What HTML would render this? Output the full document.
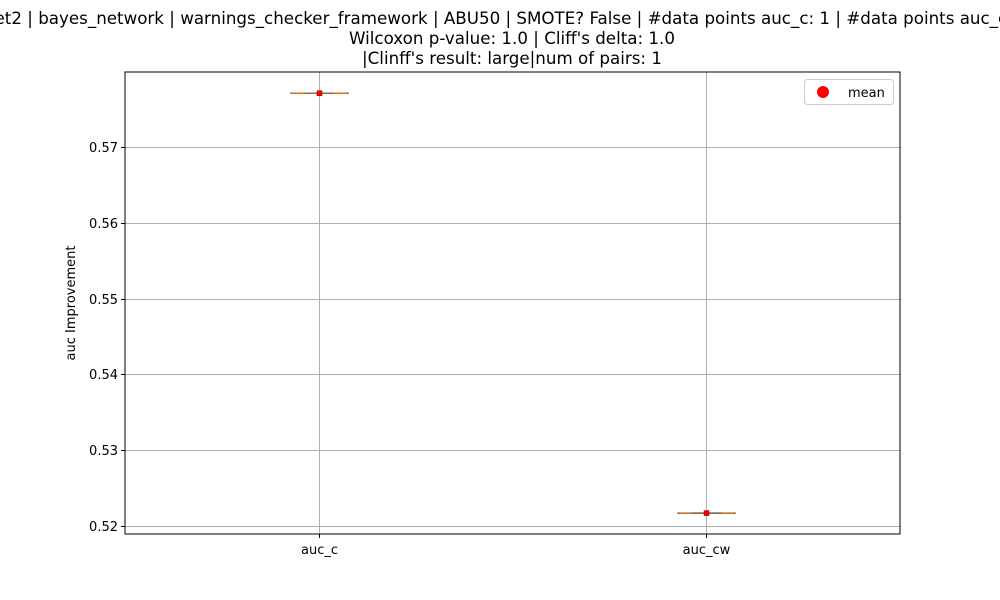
<!DOCTYPE html>
<html><head><meta charset="utf-8"><style>
body{margin:0;background:#fff;}
svg{display:block;font-family:"DejaVu Sans","Liberation Sans",sans-serif;}
</style></head><body>
<svg id="chart" width="1000" height="600" viewBox="0 0 1000 600">
<rect width="1000" height="600" fill="#fff"/>
<g font-size="16.7" text-anchor="middle" fill="#000">
<text x="518" y="24">et2 | bayes_network | warnings_checker_framework | ABU50 | SMOTE? False | #data points auc_c: 1 | #data points auc_cw: 1</text>
<text x="512" y="44">Wilcoxon p-value: 1.0 | Cliff's delta: 1.0</text>
<text x="512" y="64">|Clinff's result: large|num of pairs: 1</text>
</g>
<g id="grid"></g>
<g id="marks"></g>
<rect x="125" y="72" width="775" height="462" fill="none" stroke="#000" stroke-width="1"/>
<g id="axes"></g>
<text transform="translate(75,303) rotate(-90)" font-size="13" text-anchor="middle">auc Improvement</text>
<g>
<rect x="804.5" y="79.5" width="89" height="25" rx="3" fill="#fff" stroke="#ccc"/>
<circle cx="823" cy="92" r="6" fill="#ff0000"/>
<text x="848" y="97" font-size="13">mean</text>
</g>
</svg>
<script>
const categories = ["auc_c", "auc_cw"];
const values = [0.5771, 0.5217];
const yTicks = [0.52, 0.53, 0.54, 0.55, 0.56, 0.57];
const yTickLabels = ["0.52", "0.53", "0.54", "0.55", "0.56", "0.57"];
const ns = "http://www.w3.org/2000/svg";
const L=125,R=900,T=72,B=534, yMin=0.51894, yMax=0.5799;
function y(v){return B-(v-yMin)/(yMax-yMin)*(B-T);}
function x(i){return L+(i+0.5)*(R-L)/categories.length;}
function mk(tag,attrs,parent){const e=document.createElementNS(ns,tag);for(const k in attrs)e.setAttribute(k,attrs[k]);parent.appendChild(e);return e;}
const grid=document.getElementById('grid'),axes=document.getElementById('axes'),marks=document.getElementById('marks');
yTicks.forEach((t,i)=>{
  const yy=Math.round(y(t))+0.5;
  const g=mk('line',{x1:L,x2:R,y1:yy,y2:yy,stroke:'#b0b0b0','stroke-width':1},grid);
  
  
  const tk=mk('line',{x1:L-4,x2:L,y1:yy,y2:yy,stroke:'#000'},axes);
  
  
  const tx=mk('text',{x:L-7,y:yy+4.5,'font-size':13,'text-anchor':'end'},axes);
  tx.textContent=yTickLabels[i];
  
  
});
categories.forEach((c,i)=>{
  const xx=Math.round(x(i))+0.5;
  const g=mk('line',{x1:xx,x2:xx,y1:T,y2:B,stroke:'#b0b0b0'},grid);
  
  
  const tk=mk('line',{x1:xx,x2:xx,y1:B,y2:B+4,stroke:'#000'},axes);
  
  
  const tx=mk('text',{x:xx,y:B+20,'font-size':13,'text-anchor':'middle'},axes);
  tx.textContent=c;
  
  
  const yy=y(values[i]);
  const grp=mk('g',{},marks);
  
  
  mk('line',{x1:xx-29,x2:xx+29,y1:yy,y2:yy,stroke:'#333','stroke-width':1.5},grp);
  mk('line',{x1:xx-28,x2:xx+28,y1:yy,y2:yy,stroke:'#ff7f0e','stroke-width':1.2},grp);
  mk('line',{x1:xx-15,x2:xx+15,y1:yy,y2:yy,stroke:'#8a6a4a','stroke-width':1.2},grp);
  const m=mk('rect',{x:xx-2.5,y:yy-2.5,width:5,height:5,fill:'#ff0000',stroke:'#800','stroke-width':0.5},grp);
  
  
});
</script>
</body></html>
